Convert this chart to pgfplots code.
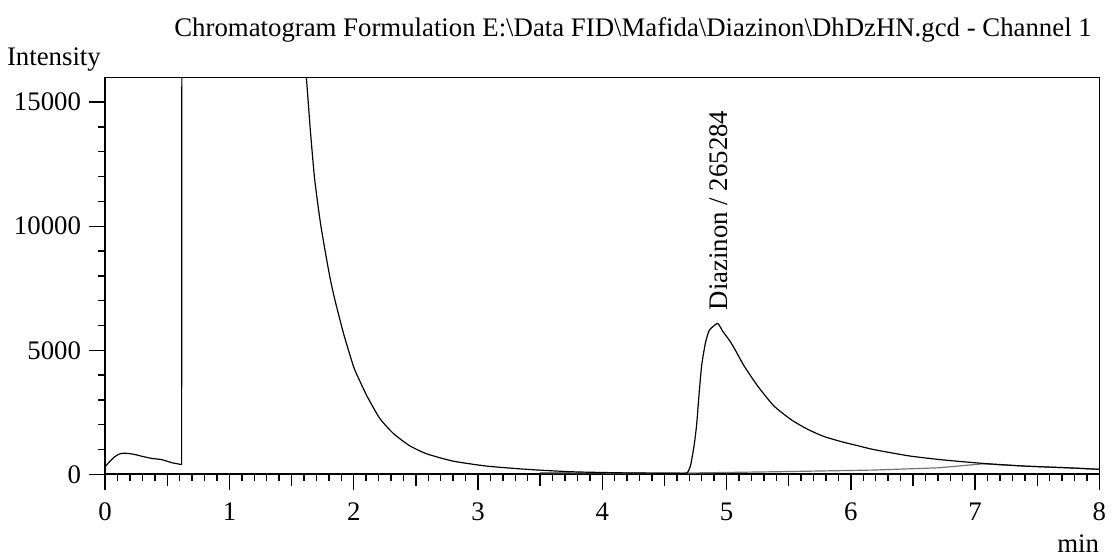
\documentclass[border=0pt]{standalone}
\usepackage{fontspec}
\setmainfont{Liberation Serif}
\usepackage{pgfplots}
\pgfplotsset{compat=1.18}
\usepackage{pgfplotstable}

% start of run, before the solvent spike
\pgfplotstableread{
x y
0.000 300
0.030 480
0.070 680
0.110 810
0.150 850
0.200 830
0.245 790
0.300 720
0.375 640
0.455 590
0.535 470
0.605 400
0.615 390
}\front

% solvent spike (off scale)
\pgfplotstableread{
x y
0.615 390
0.620 40000
}\spike

% solvent tail and Diazinon peak
\pgfplotstableread{
x y
1.450 24000
1.560 19500
1.620 15920
1.650 13920
1.685 11920
1.730 10200
1.770 9000
1.810 7900
1.850 7000
1.920 5640
2.000 4320
2.050 3750
2.110 3120
2.210 2250
2.320 1640
2.450 1150
2.590 820
2.800 530
3.070 330
3.390 200
3.760 100
4.200 55
4.600 40
4.680 50
4.710 350
4.740 1200
4.760 2040
4.780 3300
4.800 4400
4.830 5300
4.860 5800
4.890 5950
4.930 6080
4.970 5760
5.020 5420
5.060 5100
5.140 4380
5.250 3560
5.380 2760
5.520 2200
5.650 1820
5.780 1530
5.920 1320
6.050 1160
6.180 1000
6.470 740
6.740 580
7.060 440
7.400 330
7.750 260
8.000 200
}\signal

\pgfplotstableread{
x y
3.50 60
4.68 50
5.50 110
6.18 170
6.70 260
7.06 420
7.40 330
7.75 260
8.00 200
}\baseline

\begin{document}
\fontsize{13.5}{16}\selectfont
\begin{tikzpicture}
\begin{axis}[
  scale only axis,
  width=501pt, height=200pt,
  xmin=0, xmax=8, ymin=0, ymax=16000,
  axis line style={line width=0.8pt},
  tick align=outside,
  tick pos=left,
  xtick={0,1,...,8},
  ytick={0,5000,10000,15000},
  minor x tick num=9,
  minor y tick num=4,
  major tick length=8pt,
  minor tick length=3.5pt,
  every tick/.style={black, line width=0.7pt},
  extra x ticks={0.5,1.5,2.5,3.5,4.5,5.5,6.5,7.5},
  extra x tick labels={},
  extra x tick style={major tick length=6pt, grid=none},
  scaled ticks=false,
  /pgf/number format/assume math mode=true,
  /pgf/number format/1000 sep={},
  ticklabel style={font=\fontsize{13.5}{16}\selectfont},
  xticklabel style={yshift=-1.5pt},
  yticklabel style={xshift=0.5pt},
  clip=true,
]
\addplot[black!55, line width=0.6pt] table[x=x,y=y]{\baseline};
\addplot[black, line width=0.6pt, smooth, tension=0.4] table[x=x,y=y]{\front};
\addplot[black, line width=0.6pt] table[x=x,y=y]{\spike};
\addplot[black, line width=0.6pt, smooth, tension=0.35] table[x=x,y=y]{\signal};
\node[rotate=90, anchor=west, inner sep=0pt, font=\fontsize{13.5}{16}\selectfont] at (axis cs:4.935,6600) {Diazinon / 265284};
\end{axis}
\path (current axis.south west) ++(266pt,220.5pt) node[anchor=base, inner sep=0pt] {Chromatogram Formulation E:\textbackslash Data FID\textbackslash Mafida\textbackslash Diazinon\textbackslash DhDzHN.gcd - Channel 1};
\path (current axis.north west) ++(-2pt,6pt) node[anchor=base east, inner sep=0pt] {Intensity};
\path (current axis.south east) ++(0pt,-39.5pt) node[anchor=base east, inner sep=0pt] {min};
\path (current axis.south west) ++(-53pt,-41pt) rectangle ([xshift=3.5pt,yshift=39pt]current axis.north east);
\end{tikzpicture}
\end{document}
